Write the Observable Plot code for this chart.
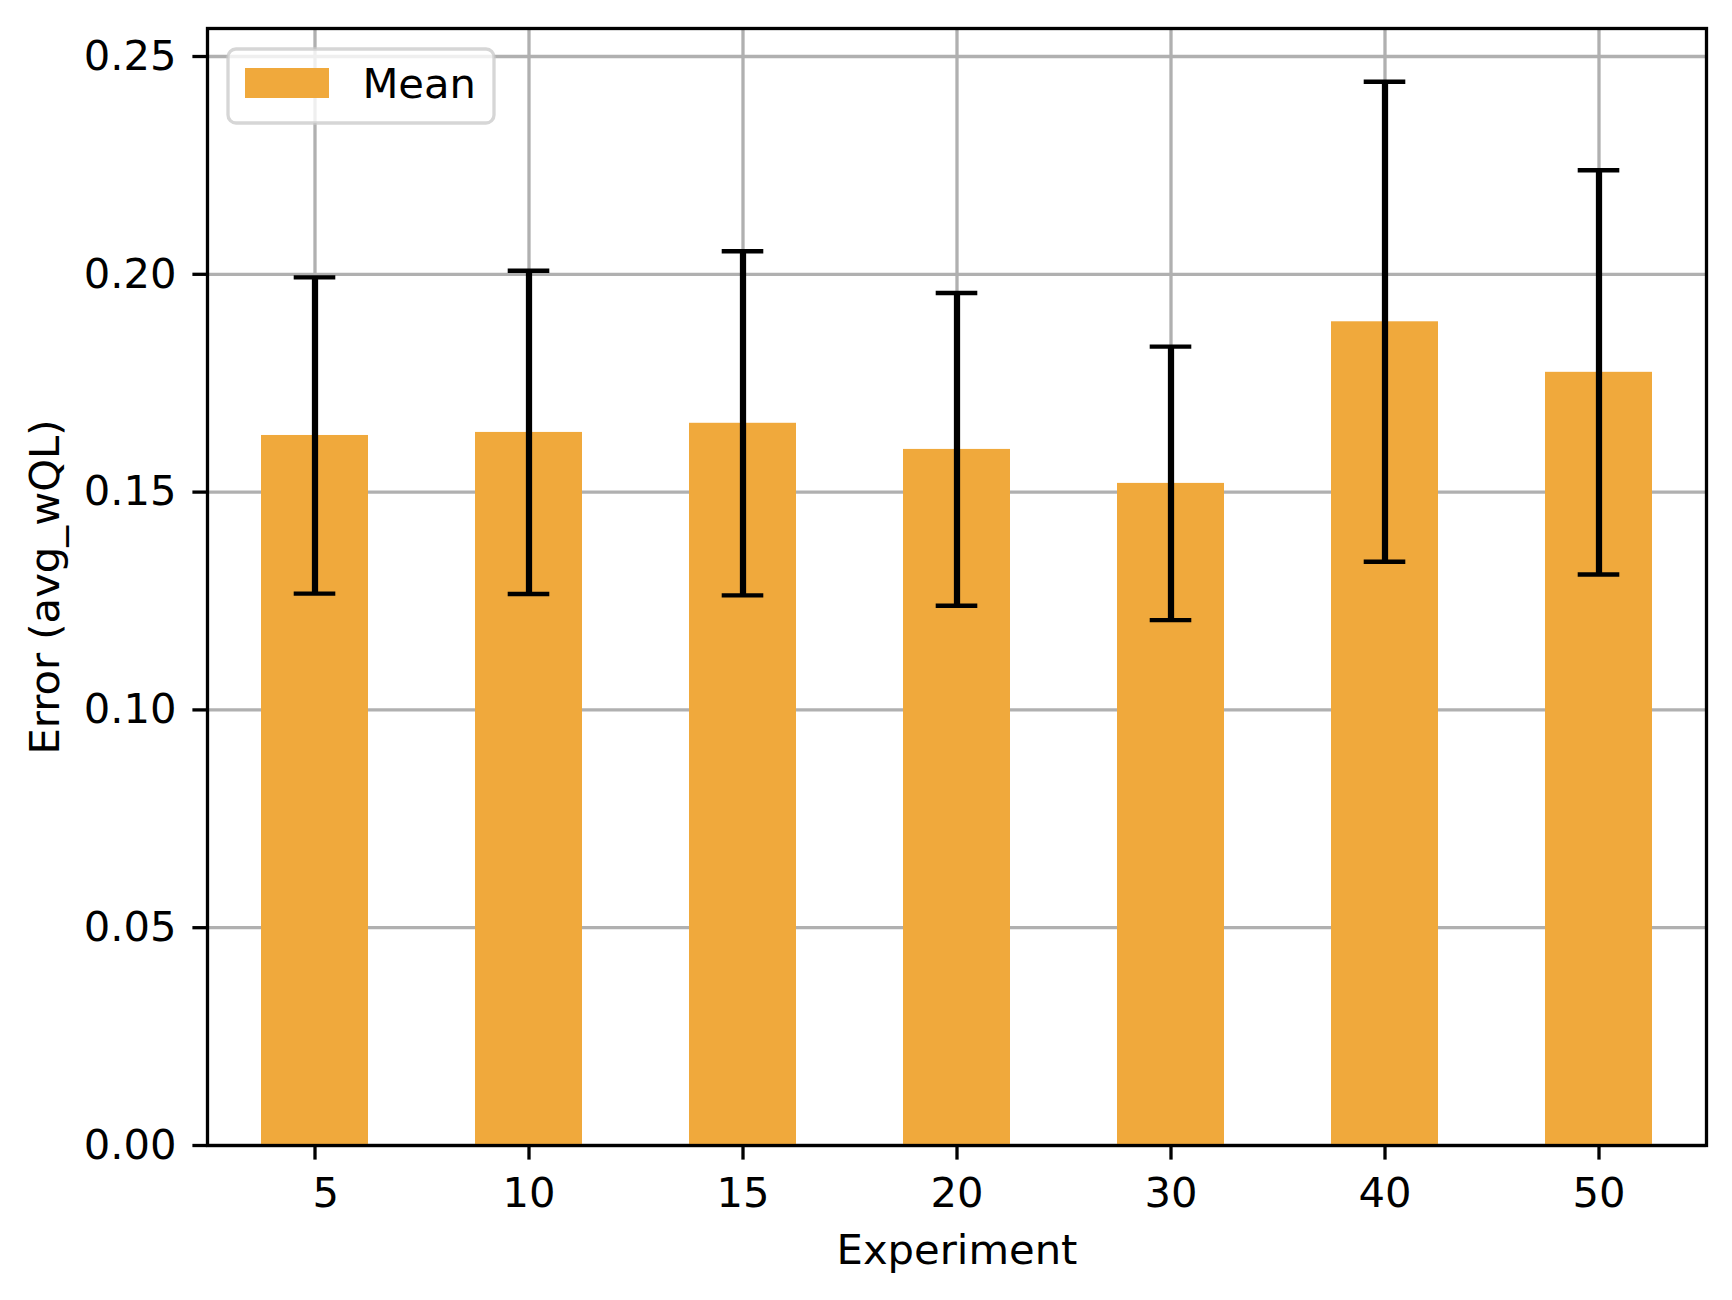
<!DOCTYPE html>
<html>
<head>
<meta charset="utf-8">
<script src="https://cdn.jsdelivr.net/npm/d3@7"></script>
<script src="https://cdn.jsdelivr.net/npm/@observablehq/plot@0.6"></script>
<style>
  html, body { margin: 0; padding: 0; background: #ffffff; }
  #wrap { position: relative; width: 1732px; height: 1300px; font-family: "DejaVu Sans", sans-serif; }
  #wrap > svg.overlay { position: absolute; left: 0; top: 0; pointer-events: none; }
</style>
</head>
<body>
<div id="wrap"></div>
<script>
// ---- data ----
const experiments = ["5", "10", "15", "20", "30", "40", "50"];
const means = [0.1630, 0.1637, 0.1658, 0.1598, 0.1520, 0.1891, 0.1775];
const stds  = [0.0363, 0.0371, 0.0395, 0.0359, 0.0314, 0.0551, 0.0464];
const yTicks = [0, 0.05, 0.10, 0.15, 0.20, 0.25];
const seriesName = "Mean";
const xLabel = "Experiment";
const yLabel = "Error (avg_wQL)";

const barColor = "#f0a93c";
const gridColor = "#b0b0b0";
const fs = 41.7;

const data = experiments.map((e, i) => ({experiment: e, mean: means[i], std: stds[i]}));

// the single-digit label sits slightly right of its tick in the reference (leading space)
const xTickFormat = d => (d.length < 2 ? "\u00a0\u2009" + d : d);

const chart = Plot.plot({
  width: 1732,
  height: 1300,
  marginLeft: 207,
  marginRight: 26,
  marginTop: 28,
  marginBottom: 155,
  style: {fontFamily: "'DejaVu Sans', sans-serif", fontSize: fs + "px", background: "white", color: "black", overflow: "visible"},
  x: {type: "band", domain: experiments, paddingInner: 0.5, paddingOuter: 0.25, align: 0.5},
  y: {domain: [0, 0.25643]},
  marks: [
    Plot.gridY(yTicks, {stroke: gridColor, strokeOpacity: 1, strokeWidth: 3.3}),
    Plot.gridX(experiments, {stroke: gridColor, strokeOpacity: 1, strokeWidth: 3.3}),
    Plot.barY(data, {x: "experiment", y: "mean", fill: barColor}),
    Plot.ruleX(data, {x: "experiment", y1: d => d.mean - d.std, y2: d => d.mean + d.std, stroke: "black", strokeWidth: 6.25}),
    Plot.tickY(data, {x: "experiment", y: d => d.mean + d.std, stroke: "black", strokeWidth: 4.4, insetLeft: 32.7, insetRight: 32.7}),
    Plot.tickY(data, {x: "experiment", y: d => d.mean - d.std, stroke: "black", strokeWidth: 4.4, insetLeft: 32.7, insetRight: 32.7}),
    Plot.frame({stroke: "black", strokeWidth: 3.3}),
    Plot.axisY(yTicks, {tickFormat: d3.format(".2f"), tickSize: 14.6, tickPadding: 16.4, strokeWidth: 3.3, label: null, fontSize: fs}),
    Plot.axisX({tickFormat: xTickFormat, tickSize: 14.6, tickPadding: 16.8, strokeWidth: 3.3, label: null, fontSize: fs}),
    Plot.text([xLabel], {frameAnchor: "bottom", dy: 104.7, textAnchor: "middle", lineAnchor: "middle", fontSize: fs, fill: "black"}),
    Plot.text([yLabel], {frameAnchor: "left", dx: -162.3, rotate: -90, textAnchor: "middle", lineAnchor: "middle", fontSize: fs, fill: "black"})
  ]
});

const wrap = document.getElementById("wrap");
wrap.appendChild(chart);

// legend (matplotlib-style box, upper left inside axes)
const ns = "http://www.w3.org/2000/svg";
const ov = document.createElementNS(ns, "svg");
ov.setAttribute("class", "overlay");
ov.setAttribute("width", 1732);
ov.setAttribute("height", 1300);
const box = document.createElementNS(ns, "rect");
Object.entries({x: 228, y: 49, width: 266, height: 74, rx: 8, fill: "white", "fill-opacity": 0.8, stroke: "#cccccc", "stroke-opacity": 0.8, "stroke-width": 3.3}).forEach(([k, v]) => box.setAttribute(k, v));
ov.appendChild(box);
const sw = document.createElementNS(ns, "rect");
Object.entries({x: 245, y: 68, width: 84, height: 30, fill: barColor}).forEach(([k, v]) => sw.setAttribute(k, v));
ov.appendChild(sw);
const tx = document.createElementNS(ns, "text");
Object.entries({x: 362.4, y: 98.3, "font-size": fs, "font-family": "'DejaVu Sans', sans-serif", fill: "black"}).forEach(([k, v]) => tx.setAttribute(k, v));
tx.textContent = seriesName;
ov.appendChild(tx);
wrap.appendChild(ov);
</script>
</body>
</html>
